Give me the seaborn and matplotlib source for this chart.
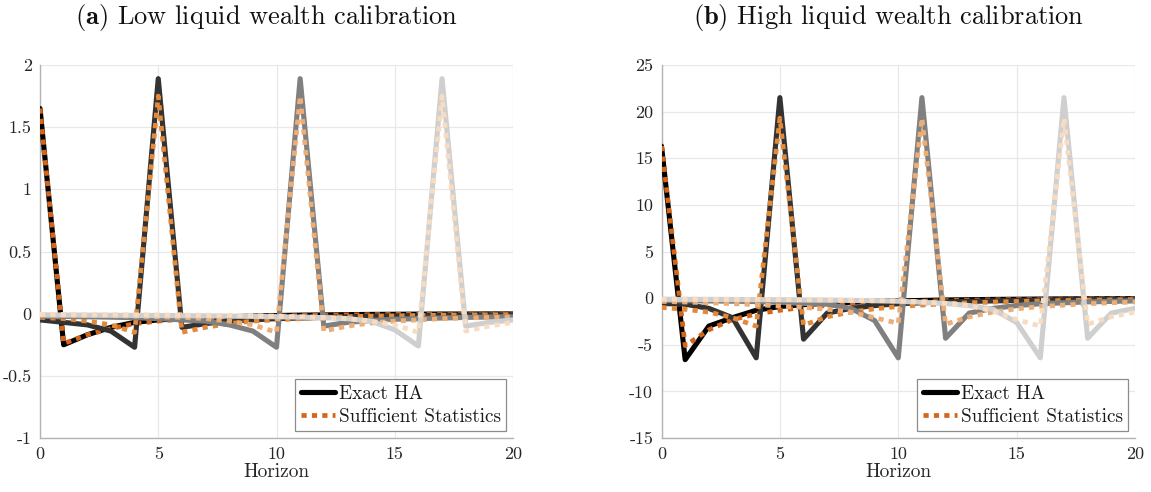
import numpy as np
import pandas as pd
import matplotlib
matplotlib.use("Agg")
import matplotlib.pyplot as plt
from matplotlib.lines import Line2D
from matplotlib.ticker import FuncFormatter
import seaborn as sns

# ---------------- data ----------------
horizon = list(range(21))
shock_dates = [0, 5, 11, 17]

# Panel (a): low liquid wealth calibration
low_exact_0 = [1.65, -0.25, -0.17, -0.11, -0.07, -0.05, -0.04, -0.03, -0.025, -0.02, -0.015,
               -0.012, -0.01, -0.008, -0.006, -0.005, -0.004, -0.003, -0.003, -0.002, -0.002]
low_exact_5 = [-0.05, -0.07, -0.09, -0.14, -0.27, 1.89, -0.11, -0.08, -0.06, -0.05, -0.04,
               -0.035, -0.03, -0.025, -0.02, -0.018, -0.015, -0.013, -0.011, -0.01, -0.009]
low_exact_11 = [-0.02, -0.022, -0.025, -0.028, -0.032, -0.04, -0.05, -0.06, -0.09, -0.14, -0.27,
                1.89, -0.10, -0.07, -0.055, -0.045, -0.04, -0.035, -0.03, -0.027, -0.025]
low_exact_17 = [-0.01, -0.011, -0.012, -0.013, -0.014, -0.015, -0.016, -0.018, -0.02, -0.022, -0.025,
                -0.028, -0.032, -0.04, -0.06, -0.13, -0.26, 1.89, -0.10, -0.07, -0.05]
low_suff_0 = [1.65, -0.24, -0.17, -0.12, -0.08, -0.06, -0.045, -0.035, -0.03, -0.025, -0.02,
              -0.015, -0.012, -0.01, -0.008, -0.006, -0.005, -0.004, -0.003, -0.003, -0.002]
low_suff_5 = [-0.03, -0.04, -0.06, -0.09, -0.15, 1.75, -0.15, -0.11, -0.08, -0.06, -0.05,
              -0.04, -0.03, -0.025, -0.02, -0.018, -0.015, -0.012, -0.01, -0.009, -0.008]
low_suff_11 = [-0.01, -0.012, -0.014, -0.016, -0.02, -0.025, -0.03, -0.04, -0.06, -0.09, -0.15,
               1.75, -0.14, -0.10, -0.075, -0.06, -0.05, -0.04, -0.035, -0.03, -0.027]
low_suff_17 = [-0.005, -0.006, -0.007, -0.008, -0.009, -0.01, -0.011, -0.012, -0.014, -0.016, -0.02,
               -0.025, -0.03, -0.04, -0.06, -0.09, -0.15, 1.75, -0.14, -0.10, -0.07]

# Panel (b): high liquid wealth calibration
high_exact_0 = [16.3, -6.6, -3.0, -2.1, -1.3, -0.9, -0.7, -0.55, -0.45, -0.35, -0.3,
                -0.25, -0.2, -0.17, -0.14, -0.12, -0.1, -0.08, -0.07, -0.06, -0.05]
high_exact_5 = [-0.57, -0.65, -1.1, -2.1, -6.4, 21.5, -4.4, -1.6, -1.1, -0.8, -0.6,
                -0.5, -0.4, -0.35, -0.3, -0.25, -0.2, -0.18, -0.15, -0.13, -0.12]
high_exact_11 = [-0.25, -0.28, -0.3, -0.33, -0.37, -0.45, -0.57, -0.65, -1.1, -2.4, -6.4,
                 21.5, -4.3, -1.6, -1.1, -0.8, -0.6, -0.5, -0.4, -0.35, -0.3]
high_exact_17 = [-0.12, -0.13, -0.14, -0.15, -0.16, -0.18, -0.2, -0.22, -0.25, -0.28, -0.33,
                 -0.45, -0.57, -0.8, -1.2, -2.6, -6.4, 21.5, -4.3, -1.6, -1.1]
high_suff_0 = [16.3, -5.1, -3.4, -2.3, -1.7, -1.3, -1.0, -0.8, -0.65, -0.5, -0.4,
               -0.33, -0.27, -0.22, -0.18, -0.15, -0.12, -0.1, -0.08, -0.07, -0.06]
high_suff_5 = [-1.0, -1.2, -1.5, -2.1, -3.0, 19.3, -2.9, -2.0, -1.5, -1.15, -0.9,
               -0.75, -0.6, -0.5, -0.42, -0.36, -0.3, -0.26, -0.22, -0.19, -0.16]
high_suff_11 = [-0.35, -0.42, -0.5, -0.6, -0.7, -0.85, -1.0, -1.2, -1.5, -2.1, -2.7,
                19.3, -2.8, -2.0, -1.5, -1.15, -0.9, -0.75, -0.6, -0.5, -0.42]
high_suff_17 = [-0.1, -0.11, -0.12, -0.13, -0.14, -0.16, -0.18, -0.2, -0.22, -0.26, -0.3,
                -0.4, -0.55, -0.8, -1.4, -2.3, -3.0, 19.3, -2.8, -2.0, -1.5]

panel_titles = [r"$\mathbf{(a)}$ Low liquid wealth calibration",
                r"$\mathbf{(b)}$ High liquid wealth calibration"]
legend_labels = ["Exact HA", "Sufficient Statistics"]
x_label = "Horizon"
low_yticks = [-1, -0.5, 0, 0.5, 1, 1.5, 2]
high_yticks = [-15, -10, -5, 0, 5, 10, 15, 20, 25]
xticks = [0, 5, 10, 15, 20]

# ---------------- style ----------------
sns.set_theme(style="white")
plt.rcParams["font.family"] = ["cmr10", "DejaVu Serif"]
plt.rcParams["mathtext.fontset"] = "cm"
plt.rcParams["axes.unicode_minus"] = False
plt.rcParams["axes.formatter.use_mathtext"] = True

exact_colors = ["#000000", "#333333", "#808080", "#cfcfcf"]
suff_colors = ["#D4661C", "#E28A3A", "#ECAE76", "#F8DCC2"]

fig = plt.figure(figsize=(11.51, 4.92), dpi=100)
W, H = 1151, 492
ax_l = fig.add_axes([40 / W, 1 - 438 / H, 473 / W, 373 / H])
ax_r = fig.add_axes([661.5 / W, 1 - 438 / H, 473.5 / W, 373 / H])

panels = [
    (ax_l, [low_exact_0, low_exact_5, low_exact_11, low_exact_17],
     [low_suff_0, low_suff_5, low_suff_11, low_suff_17], low_yticks, (-1, 2)),
    (ax_r, [high_exact_0, high_exact_5, high_exact_11, high_exact_17],
     [high_suff_0, high_suff_5, high_suff_11, high_suff_17], high_yticks, (-15, 25)),
]

for i, (ax, exact, suff, yt, ylim) in enumerate(panels):
    for j in range(4):
        df = pd.DataFrame({"h": horizon, "exact": exact[j], "suff": suff[j]})
        sns.lineplot(data=df, x="h", y="exact", ax=ax, color=exact_colors[j], lw=3.7,
                     solid_joinstyle="round", solid_capstyle="round", zorder=3 + 2 * j)
        sns.lineplot(data=df, x="h", y="suff", ax=ax, color=suff_colors[j], lw=3.4,
                     linestyle=(0, (1.1, 1.1)), dash_capstyle="butt",
                     dash_joinstyle="round", zorder=4 + 2 * j)
    ax.set_xlim(0, 20)
    ax.set_ylim(*ylim)
    ax.set_xticks(xticks)
    ax.set_yticks(yt)
    ax.yaxis.set_major_formatter(FuncFormatter(lambda v, p: f"{v:g}"))
    ax.xaxis.set_major_formatter(FuncFormatter(lambda v, p: f"{v:g}"))
    ax.grid(True, color="#e8e8e8", lw=0.9)
    ax.set_axisbelow(True)
    for s in ["top", "right"]:
        ax.spines[s].set_visible(False)
    for s in ["left", "bottom"]:
        ax.spines[s].set_color("#b3b3b3")
        ax.spines[s].set_linewidth(1.0)
    ax.tick_params(axis="both", length=0, labelsize=13, colors="#262626", pad=6)
    ax.tick_params(axis="y", pad=6)
    ax.set_xlabel(x_label, fontsize=14, color="#262626", labelpad=1)
    ax.set_ylabel("")
    handles = [Line2D([0], [0], color="black", lw=3.7),
               Line2D([0], [0], color=suff_colors[0], lw=3.4, linestyle=(0, (1.1, 1.1)))]
    leg = ax.legend(handles, legend_labels, loc="lower right", fontsize=13.8,
                    frameon=True, fancybox=False, framealpha=1, edgecolor="#8c8c8c",
                    handlelength=1.75, handletextpad=0.2, borderpad=0.3,
                    labelspacing=0.25, borderaxespad=0.35)
    leg.get_frame().set_linewidth(0.9)
    for t in leg.get_texts():
        t.set_color("#1a1a1a")
    pos = ax.get_position()
    cx = pos.x0 + pos.width / 2 - 10 / W
    fig.text(cx, 1 - 2 / H, panel_titles[i], ha="center", va="top", fontsize=19,
             color="#111111")

fig.savefig("out.png", dpi=100)
